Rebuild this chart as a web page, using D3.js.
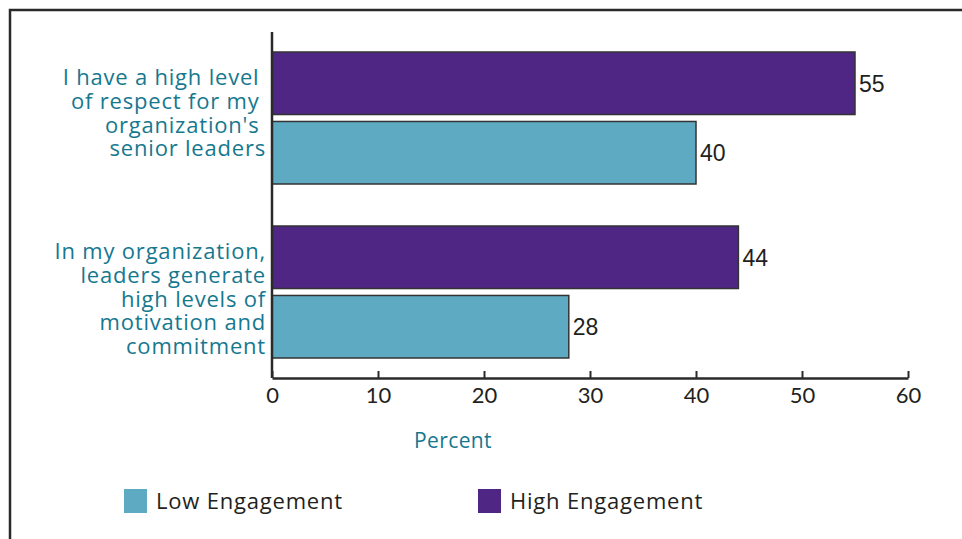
<!DOCTYPE html>
<html>
<head>
<meta charset="utf-8">
<script src="https://cdn.jsdelivr.net/npm/d3@7/dist/d3.min.js"></script>
<style>
  html, body { margin: 0; padding: 0; background: #fff; }
  svg { display: block; font-family: "Open Sans", "Noto Sans", sans-serif; }
</style>
</head>
<body>
<svg id="chart" width="962" height="539"></svg>
<script>
// Survey statements, each drawn as a block of wrapped lines
const categories = ["respect", "motivation"];
const categoryLines = [
  ["I have a high level ", "of respect for my ", "organization's ", "senior leaders"],
  ["In my organization,", "leaders generate", "high levels of", "motivation and", "commitment"]
];
// Series values (percent), in category order
const series = ["High Engagement", "Low Engagement"];
const highValues = [55, 44];
const lowValues = [40, 28];
const xTicks = [0, 10, 20, 30, 40, 50, 60];
const legendOrder = ["Low Engagement", "High Engagement"];

const colors = { "High Engagement": "#4f2683", "Low Engagement": "#5eaac3" };
const labelColor = "#16788f";
const inkColor = "#231f20";

const svg = d3.select("#chart");

// Outer frame (top and left edges)
svg.append("path")
  .attr("d", "M10,539 V10 H962")
  .attr("fill", "none")
  .attr("stroke", "#2a2a2a")
  .attr("stroke-width", 2.5);

const x = d3.scaleLinear().domain([0, 60]).range([272, 908]);
const y = d3.scaleBand().domain(categories).range([31, 379])
  .paddingInner(0.2414).paddingOuter(0.1207);
const ySub = d3.scaleBand().domain(series).range([0, y.bandwidth()])
  .paddingInner(0.1).paddingOuter(0);

const rows = categories.map((c, i) => ({
  key: c,
  lines: categoryLines[i],
  values: [
    { s: "High Engagement", v: highValues[i] },
    { s: "Low Engagement", v: lowValues[i] }
  ]
}));

// Bars
const groups = svg.selectAll("g.group").data(rows).join("g")
  .attr("class", "group")
  .attr("transform", d => `translate(0,${y(d.key)})`);

groups.selectAll("rect").data(d => d.values).join("rect")
  .attr("x", x(0))
  .attr("y", d => ySub(d.s))
  .attr("width", d => x(d.v) - x(0))
  .attr("height", ySub.bandwidth())
  .attr("fill", d => colors[d.s])
  .attr("stroke", "#333")
  .attr("stroke-width", 1.5);

// Value labels
groups.selectAll("text.val").data(d => d.values).join("text")
  .attr("class", "val")
  .attr("x", d => x(d.v) + 4)
  .attr("y", d => ySub(d.s) + ySub.bandwidth() / 2)
  .attr("dy", "0.36em")
  .attr("font-size", 23)
  .attr("font-family", "'Liberation Sans', Arial, sans-serif")
  .attr("fill", inkColor)
  .text(d => d.v);

// Category labels (right-aligned, wrapped)
groups.append("text")
  .attr("text-anchor", "end")
  .attr("font-size", 22)
  .attr("letter-spacing", 0.8)
  .attr("fill", labelColor)
  .attr("xml:space", "preserve")
  .style("white-space", "pre")
  .selectAll("tspan").data(d => d.lines).join("tspan")
  .attr("x", 266)
  .attr("y", (d, i) => 33 + i * 23.8)
  .text(d => d);

// Y axis line
svg.append("line")
  .attr("x1", x(0)).attr("x2", x(0))
  .attr("y1", 32).attr("y2", 378)
  .attr("stroke", "#2a2a2a").attr("stroke-width", 2.5);

// X axis with ticks pointing up
const xAxis = svg.append("g")
  .attr("transform", "translate(0,378)")
  .call(d3.axisBottom(x).tickValues(xTicks).tickSizeInner(-7).tickSizeOuter(0).tickPadding(9));
xAxis.select(".domain").attr("stroke", "#2a2a2a").attr("stroke-width", 2.5);
xAxis.selectAll(".tick line").attr("stroke", "#2a2a2a").attr("stroke-width", 2);
xAxis.selectAll(".tick text")
  .attr("font-size", 22)
  .attr("font-family", "Lato, 'Noto Sans', sans-serif")
  .attr("fill", inkColor);

// Axis title
svg.append("text")
  .attr("x", 453).attr("y", 448)
  .attr("text-anchor", "middle")
  .attr("font-size", 21)
  .attr("letter-spacing", 0.4)
  .attr("fill", labelColor)
  .text("Percent");

// Legend
const legendX = d3.scaleOrdinal().domain(legendOrder).range([124, 478]);
const legend = svg.selectAll("g.legend").data(legendOrder).join("g")
  .attr("class", "legend")
  .attr("transform", d => `translate(${legendX(d)},489)`);
legend.append("rect")
  .attr("width", 23).attr("height", 24)
  .attr("fill", d => colors[d]);
legend.append("text")
  .attr("x", 32).attr("y", 20)
  .attr("font-size", 22)
  .attr("letter-spacing", 0.8)
  .attr("fill", inkColor)
  .text(d => d);
</script>
</body>
</html>
